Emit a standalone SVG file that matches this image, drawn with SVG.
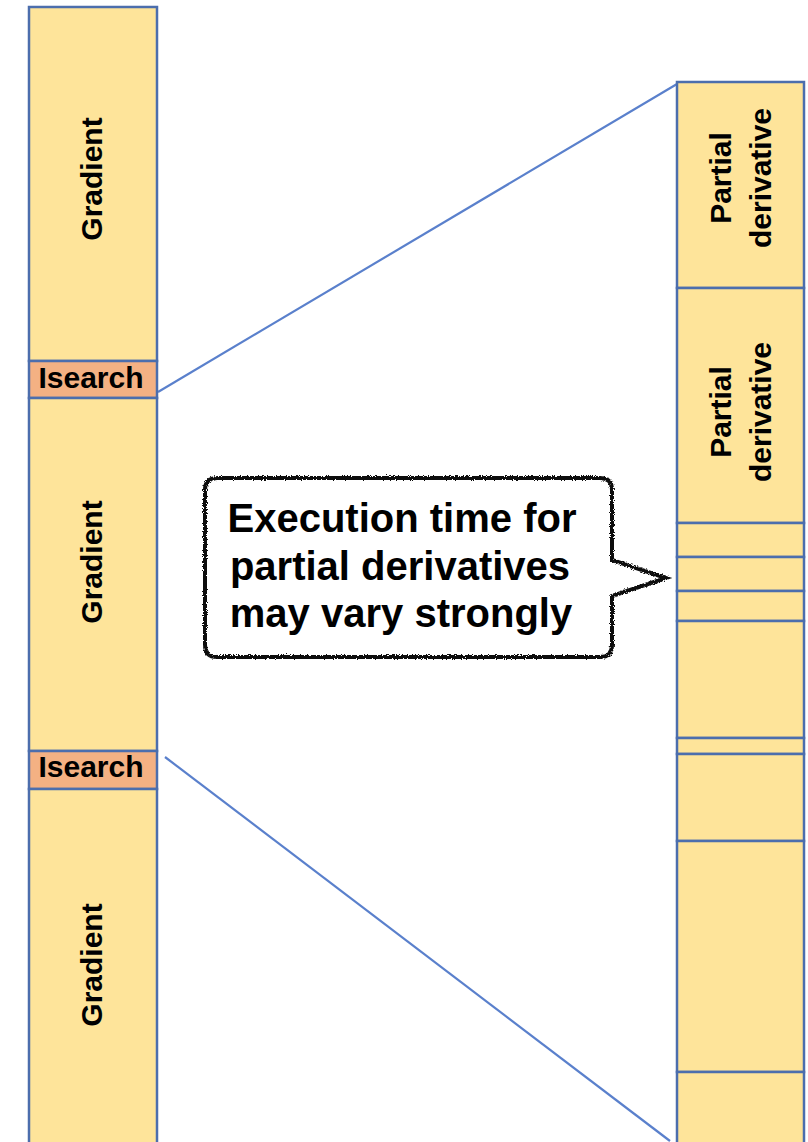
<svg xmlns="http://www.w3.org/2000/svg" width="808" height="1142" viewBox="0 0 808 1142">
<defs>
<style>
.seg{fill:#FEE49A;stroke:#4C6EAD;stroke-width:2.5}
.ls{fill:#F4B183;stroke:#4C6EAD;stroke-width:2.5}
.t{font-family:"Liberation Sans",Arial,sans-serif;font-weight:bold;fill:#000}
.vt{font-size:30px;text-anchor:middle}
.ct{font-size:40px;text-anchor:middle}
.conn{stroke:#5A80CC;stroke-width:2.2;fill:none}
</style>
<filter id="rough" x="-5%" y="-5%" width="110%" height="110%">
<feTurbulence type="fractalNoise" baseFrequency="0.9" numOctaves="2" seed="3" result="n"/>
<feDisplacementMap in="SourceGraphic" in2="n" scale="4" xChannelSelector="R" yChannelSelector="G"/>
</filter>
</defs>
<rect width="808" height="1142" fill="#fff"/>
<g id="connectors">
<line class="conn" x1="158" y1="392" x2="677" y2="84"/>
<line class="conn" x1="165" y1="757" x2="670" y2="1141"/>
</g>
<g id="left-column">
<g id="gradient1"><rect class="seg" x="29" y="7" width="128" height="354"/><text class="t vt" transform="translate(102,179) rotate(-90)">Gradient</text></g>
<g id="isearch1"><rect class="ls" x="29" y="361" width="128" height="37"/><text class="t" x="91" y="388" font-size="30" text-anchor="middle">Isearch</text></g>
<g id="gradient2"><rect class="seg" x="29" y="398" width="128" height="353"/><text class="t vt" transform="translate(102,562) rotate(-90)">Gradient</text></g>
<g id="isearch2"><rect class="ls" x="29" y="751" width="128" height="38"/><text class="t" x="91" y="777" font-size="30" text-anchor="middle">Isearch</text></g>
<g id="gradient3"><rect class="seg" x="29" y="789" width="128" height="360"/><text class="t vt" transform="translate(102,965) rotate(-90)">Gradient</text></g>
</g>
<g id="right-column">
<g id="pd1"><rect class="seg" x="677" y="82" width="127" height="206"/><text class="t vt" transform="translate(731,178) rotate(-90)">Partial</text><text class="t vt" transform="translate(771,178) rotate(-90)">derivative</text></g>
<g id="pd2"><rect class="seg" x="677" y="288" width="127" height="235"/><text class="t vt" transform="translate(731,412) rotate(-90)">Partial</text><text class="t vt" transform="translate(771,412) rotate(-90)">derivative</text></g>
<g id="pd3"><rect class="seg" x="677" y="523" width="127" height="34"/></g>
<g id="pd4"><rect class="seg" x="677" y="557" width="127" height="34"/></g>
<g id="pd5"><rect class="seg" x="677" y="591" width="127" height="30"/></g>
<g id="pd6"><rect class="seg" x="677" y="621" width="127" height="117"/></g>
<g id="pd7"><rect class="seg" x="677" y="738" width="127" height="16"/></g>
<g id="pd8"><rect class="seg" x="677" y="754" width="127" height="87"/></g>
<g id="pd9"><rect class="seg" x="677" y="841" width="127" height="231"/></g>
<g id="pd10"><rect class="seg" x="677" y="1072" width="127" height="80"/></g>
</g>
<g id="callout">
<path d="M217,478 H600 Q612,478 612,490 V560 L666,578 L612,596 V645 Q612,657 600,657 H217 Q205,657 205,645 V490 Q205,478 217,478 Z" fill="#fff" stroke="#111" stroke-width="4" filter="url(#rough)"/>
<text class="t ct" x="402" y="532">Execution time for</text>
<text class="t ct" x="400" y="580">partial derivatives</text>
<text class="t ct" x="401" y="627">may vary strongly</text>
</g>
</svg>
